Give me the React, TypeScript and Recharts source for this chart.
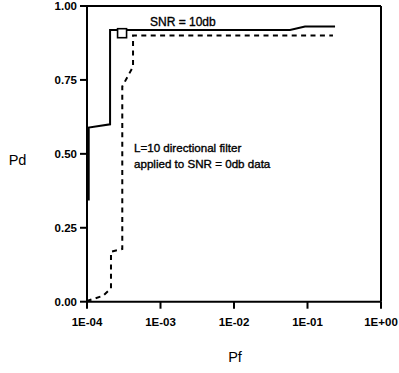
import React from 'react';
import { ComposedChart, Line, Scatter, XAxis, YAxis, ReferenceLine, Customized } from 'recharts';

const xTicks = [1e-4, 1e-3, 1e-2, 1e-1, 1];
const xTickLabels = ['1E-04', '1E-03', '1E-02', '1E-01', '1E+00'];
const yTicks = [0, 0.25, 0.5, 0.75, 1];
const yTickLabels = ['0.00', '0.25', '0.50', '0.75', '1.00'];

// SNR = 10db (solid)
const snr10Pf = [1.055e-4, 1.055e-4, 2.06e-4, 2.06e-4, 0.0578, 0.0925, 0.237];
const snr10Pd = [0.342, 0.589, 0.6, 0.919, 0.919, 0.931, 0.931];

// L=10 directional filter applied to SNR = 0db data (dashed)
const filtPf = [1.0e-4, 1.05e-4, 1.65e-4, 2.12e-4, 2.12e-4, 3.02e-4, 3.02e-4, 4.23e-4, 4.23e-4, 0.222];
const filtPd = [0.0, 0.004, 0.02, 0.045, 0.169, 0.178, 0.728, 0.795, 0.9, 0.9];

// marker
const markerPf = [3.0e-4];
const markerPd = [0.908];

const snr10 = snr10Pf.map((x, i) => ({ x, y: snr10Pd[i] }));
const filt = filtPf.map((x, i) => ({ x, y: filtPd[i] }));
const marker = markerPf.map((x, i) => ({ x, y: markerPd[i] }));

const FONT = '"Liberation Sans", Arial, sans-serif';

const tickStyle = { fill: '#000', fontSize: 11.5, fontWeight: 'bold', fontFamily: FONT };

const SquareShape = (props: any) => {
  const { cx, cy } = props;
  if (cx == null || cy == null) return null;
  return <rect x={cx - 4.5} y={cy - 4.5} width={9} height={9} fill="#fff" stroke="#000" strokeWidth={1.6} />;
};

const Texts = () => (
  <g fontFamily={FONT} fill="#000">
    <text x={17.5} y={165} fontSize={14.5} textAnchor="middle">Pd</text>
    <text x={235} y={362} fontSize={14.5} textAnchor="middle">Pf</text>
    <g stroke="#000" strokeWidth={0.35}>
      <text x={150} y={26} fontSize={12}>SNR = 10db</text>
      <text x={134} y={151.5} fontSize={11.6}>L=10 directional filter</text>
      <text x={134} y={168} fontSize={11.6}>applied to SNR = 0db data</text>
    </g>
  </g>
);

export default function App() {
  return (
    <div style={{ position: 'absolute', left: 0, top: 0, background: '#fff' }}>
      <ComposedChart width={399} height={373} margin={{ top: 6, right: 18, left: 0, bottom: 0 }}>
        <XAxis
          dataKey="x"
          type="number"
          scale="log"
          domain={[1e-4, 1]}
          ticks={xTicks}
          tickFormatter={(v: number) => xTickLabels[xTicks.findIndex((t) => Math.abs(Math.log10(t) - Math.log10(v)) < 1e-6)] ?? ''}
          allowDataOverflow
          height={71.3}
          tickSize={7}
          tickMargin={9}
          tick={tickStyle}
          axisLine={{ stroke: '#000', strokeWidth: 2 }}
          tickLine={{ stroke: '#000', strokeWidth: 2 }}
        />
        <YAxis
          dataKey="y"
          type="number"
          domain={[0, 1]}
          ticks={yTicks}
          tickFormatter={(v: number) => yTickLabels[yTicks.indexOf(v)] ?? ''}
          width={87}
          tickSize={7}
          tickMargin={3}
          tick={tickStyle}
          axisLine={{ stroke: '#000', strokeWidth: 2 }}
          tickLine={{ stroke: '#000', strokeWidth: 2 }}
        />
        <ReferenceLine y={1} stroke="#000" strokeWidth={2} ifOverflow="visible" />
        <ReferenceLine x={1} stroke="#000" strokeWidth={2} ifOverflow="visible" />
        <Line data={snr10} dataKey="y" type="linear" stroke="#000" strokeWidth={2} dot={false} isAnimationActive={false} />
        <Line data={filt} dataKey="y" type="linear" stroke="#000" strokeWidth={2} strokeDasharray="5 4.4" dot={false} isAnimationActive={false} />
        <Scatter data={marker} dataKey="y" shape={<SquareShape />} isAnimationActive={false} />
        <Customized component={Texts} />
      </ComposedChart>
    </div>
  );
}
